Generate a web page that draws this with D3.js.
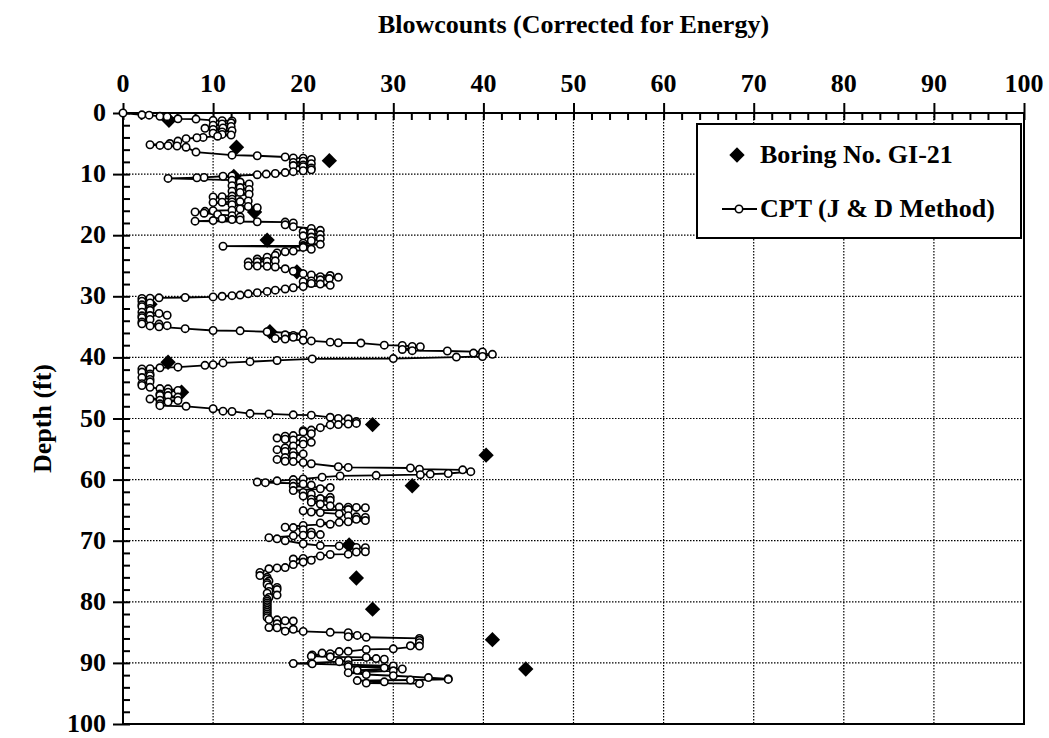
<!DOCTYPE html>
<html>
<head>
<meta charset="utf-8">
<script src="https://cdn.jsdelivr.net/npm/d3@7"></script>
<style>
  body { margin: 0; background: #fff; }
  svg text { font-family: "Liberation Serif", "Times New Roman", serif; font-weight: bold; fill: #000; }
</style>
</head>
<body>
<svg id="chart" width="1049" height="738"></svg>
<script>
// tick values
const xMajor = d3.range(0, 101, 10);
const yMajor = d3.range(0, 101, 10);
const minorStep = 2;

// Boring No. GI-21 (depth ft, corrected blowcount)
const borDepth = [1.2, 5.6, 7.8, 10.4, 16.2, 20.8, 26.0, 31.3, 35.8, 40.8, 45.7, 51.0, 56.0, 61.0, 70.7, 76.1, 81.2, 86.2, 91.0];
const borN     = [5.1, 12.6, 22.9, 12.3, 14.6, 16.0, 19.3, 3.0, 16.3, 5.0, 6.5, 27.7, 40.3, 32.1, 25.1, 25.9, 27.7, 41.0, 44.7];

// CPT (J & D method) as [depth, blowcount], in depth order
const cptPoints = [
  [0,0],[0.3,2.1],[0.35,2.9],[0.55,4.1],[0.6,4.9],[0.95,6.1],[1.0,8.1],[1.2,10.0],[1.25,11.0],[1.3,12.1],
  [1.6,12.0],[1.8,11.0],[2.0,10.0],[2.2,12.0],[2.45,11.1],[2.5,9.1],[2.7,10.0],[2.9,12.1],[3.1,11.0],[3.3,10.0],
  [3.5,11.0],[3.6,12.0],[3.8,10.5],[4.0,8.9],[4.05,8.2],[4.2,7.0],[4.6,6.1],[5.0,5.2],[5.2,3.0],[5.3,4.1],
  [5.35,5.0],[5.4,6.0],[5.6,7.0],[6.4,8.1],[6.9,12.1],[7.0,14.9],[7.2,18.0],[7.35,18.9],[7.4,20.0],[7.6,20.9],
  [7.9,20.0],[8.1,18.9],[8.3,20.9],[8.5,20.0],[8.6,18.9],[8.8,20.0],[9.0,20.9],[9.3,20.9],[9.45,20.0],[9.6,18.9],
  [9.75,18.0],[9.9,16.9],[10.0,15.9],[10.1,14.9],[10.3,12.1],[10.35,11.1],[10.55,9.0],[10.6,8.2],[10.7,5.0],
  [11.0,12.1],[11.3,13.0],[11.6,14.0],[11.9,12.1],[12.2,13.0],[12.5,14.0],[12.8,12.1],[13.0,13.0],[13.3,14.0],
  [13.6,12.1],[13.7,11.0],[13.75,10.0],[14.1,12.1],[14.4,13.9],[14.5,13.0],[14.55,12.1],[14.6,11.0],[14.65,10.0],
  [15.0,12.1],[15.3,13.9],[15.5,14.9],[15.7,13.0],[15.9,12.1],[16.0,10.0],[16.1,9.1],[16.2,8.0],[16.4,9.0],
  [16.6,10.5],[16.8,12.1],[17.0,13.0],[17.3,11.0],[17.45,12.1],[17.5,13.0],[17.6,10.0],[17.7,8.0],[17.8,14.9],
  [17.85,18.0],[18.0,18.9],[18.3,18.0],[18.6,18.9],[18.9,20.9],[19.2,21.9],[19.4,20.0],[19.6,20.9],[19.9,21.9],
  [20.1,20.0],[20.3,20.9],[20.6,21.9],[20.9,20.9],[21.3,20.0],[21.5,21.9],[21.7,20.0],[21.8,11.1],[21.9,20.0],
  [22.0,20.0],[22.3,20.9],[22.6,18.9],[22.7,18.0],[22.9,17.1],[23.3,16.9],[23.6,16.0],[23.9,14.9],[24.2,16.9],
  [24.3,16.0],[24.35,14.9],[24.4,13.9],[25.0,13.9],[25.05,14.9],[25.1,16.0],[25.2,16.9],[25.5,18.0],[25.9,18.9],
  [26.3,20.0],[26.5,20.9],[26.6,23.0],[26.8,21.9],[26.9,23.9],[27.1,22.9],[27.3,21.9],[27.5,20.9],[27.6,20.0],
  [27.9,20.9],[28.0,21.9],[28.2,23.0],[28.4,20.0],[28.6,18.9],[28.8,18.0],[29.0,16.9],[29.2,16.0],[29.4,14.9],
  [29.6,13.9],[29.8,13.0],[29.9,12.1],[30.0,11.0],[30.1,10.0],[30.2,6.9],[30.25,4.0],[30.3,3.0],[30.35,2.1],
  [30.8,2.1],[31.1,3.0],[31.4,2.1],[31.7,2.1],[32.0,3.0],[32.3,3.0],[32.6,2.1],[32.8,4.0],[33.1,4.9],[33.15,3.0],
  [33.2,2.1],[33.5,2.1],[33.8,3.0],[34.2,2.1],[34.5,2.1],[34.55,4.0],[34.8,4.9],[34.85,3.0],[35.0,4.0],[35.3,6.9],
  [35.6,10.0],[35.65,13.0],[35.8,16.0],[36.1,20.0],[36.3,18.0],[36.4,18.9],[36.7,18.9],[36.9,16.9],[37.0,18.0],
  [37.2,20.0],[37.3,20.9],[37.5,23.0],[37.6,23.9],[37.65,26.4],[38.0,29.0],[38.05,31.0],[38.2,32.1],[38.25,33.0],
  [38.7,31.0],[38.9,32.1],[38.95,36.0],[39.1,39.9],[39.3,38.9],[39.5,41.0],[39.85,39.9],[39.95,37.0],[40.2,30.0],
  [40.25,21.0],[40.5,17.1],[40.7,14.1],[40.9,11.1],[41.2,10.0],[41.3,9.1],[41.6,6.1],[41.7,4.1],[41.85,3.0],[41.9,2.1],
  [42.4,2.1],[42.7,3.0],[43.0,3.0],[43.3,2.1],[43.6,3.0],[44.0,3.0],[44.3,2.1],[44.6,2.1],[44.9,3.0],[45.1,4.1],
  [45.15,5.0],[45.4,6.1],[45.7,5.0],[46.0,4.1],[46.2,4.1],[46.25,5.0],[46.5,6.1],[46.8,3.0],[47.0,4.1],[47.05,6.1],
  [47.3,5.0],[47.6,4.1],[47.9,4.1],[48.0,7.0],[48.4,10.0],[48.8,11.1],[48.85,12.1],[49.2,14.1],[49.25,16.2],
  [49.4,18.9],[49.45,20.9],[49.8,23.0],[50.0,23.9],[50.05,25.0],[50.5,25.9],[50.8,25.9],[50.9,25.0],[51.0,23.9],
  [51.05,23.0],[51.5,21.9],[51.9,20.9],[52.0,20.0],
  [52.2,20.0],[52.5,20.9],[52.8,18.9],[52.9,18.0],[53.2,17.1],[53.4,18.0],[53.5,18.9],[53.6,20.0],[53.9,20.9],
  [54.2,20.0],[54.5,18.9],[54.8,18.0],[55.1,17.1],[55.4,18.0],[55.5,18.9],[55.8,20.0],[56.1,18.9],[56.4,18.0],
  [56.7,17.1],[57.0,18.0],[57.05,18.9],[57.2,20.0],[57.4,20.9],[57.9,23.9],[58.0,25.0],[58.1,31.9],[58.3,32.9],
  [58.4,37.7],[58.7,38.6],[59.0,36.1],[59.1,34.1],[59.2,33.0],[59.3,28.1],[59.4,24.1],[59.6,22.1],[59.9,20.0],
  [60.0,18.9],[60.2,17.1],[60.4,14.9],[60.5,15.8],[60.6,18.9],[60.7,20.0],[60.9,20.9],[61.1,18.9],[61.3,23.0],
  [61.5,21.9],[61.8,18.9],[62.1,20.0],[62.4,20.9],[62.7,20.0],[62.9,23.0],[63.1,21.9],[63.2,20.9],[63.4,23.0],
  [63.7,20.9],[64.0,21.9],[64.3,23.0],[64.5,24.0],[64.52,25.0],[64.55,25.9],[64.6,26.9],[64.9,25.0],[65.1,20.0],
  [65.3,20.9],[65.4,21.9],[65.6,24.0],[65.9,25.0],[66.1,25.9],[66.2,26.9],[66.5,25.9],[66.7,26.9],[66.9,25.0],
  [67.0,24.0],[67.1,21.9],[67.3,23.0],[67.5,20.0],[67.8,18.0],[67.85,18.9],[68.2,20.0],[68.6,20.9],
  [69.0,21.9],[69.05,20.9],[69.1,20.0],[69.2,18.9],[69.5,16.2],[69.7,17.1],[70.0,18.0],[70.5,20.0],[70.8,21.9],
  [70.85,24.0],[71.1,25.9],[71.15,26.9],[71.8,26.9],[71.85,25.9],[72.2,25.0],[72.25,23.0],[72.5,21.9],[72.9,20.0],
  [73.0,18.9],[73.2,20.9],[73.5,20.0],[73.9,18.9],[74.4,18.0],[74.45,17.1],[74.6,16.2],[75.2,15.2],[75.7,15.2],
  [76.0,16.0],[76.3,16.0],[76.6,16.2],[76.9,16.0],[77.2,16.0],[77.6,16.2],[77.65,17.1],[78.0,17.1],[78.3,16.2],
  [78.6,16.0],[78.9,17.1],[79.3,16.2],[79.6,16.0],[79.9,16.0],[80.2,16.0],[80.5,16.0],[80.8,16.0],[81.1,16.0],
  [81.4,16.0],[81.7,16.0],[82.0,16.0],[82.3,16.0],[82.6,16.0],
  [82.9,16.2],[82.95,17.1],[83.1,18.0],[83.15,18.9],[83.6,17.1],[84.2,16.2],[84.25,17.1],[84.5,18.9],[84.8,18.0],
  [84.85,20.0],[85.0,23.0],[85.05,25.0],[85.5,26.0],[85.7,25.0],[85.8,27.0],[86.0,32.9],[86.3,32.9],[86.7,32.9],
  [87.2,31.9],[87.25,32.9],[87.7,30.0],[87.8,27.0],[88.1,25.0],[88.15,24.0],[88.4,22.1],[88.5,23.0],[88.7,21.0],
  [88.9,20.9],[89.0,23.0],[89.1,27.0],[89.3,28.1],[89.4,29.0],[89.6,25.0],[89.8,24.0],[90.0,20.9],[90.1,18.9],
  [90.15,21.0],[90.3,25.0],[90.5,30.0],[90.6,25.0],[90.8,29.0],[91.0,31.0],[91.2,26.0],[91.3,30.0],[91.6,25.0],
  [91.9,27.0],[92.1,30.0],[92.4,33.9],[92.6,36.1],[92.7,36.1],[92.8,31.9],[92.9,26.0],[93.1,29.0],[93.3,27.0],[93.4,32.9]
];

const svg = d3.select("#chart");
const x = d3.scaleLinear().domain([0, 100]).range([123, 1024]);
const y = d3.scaleLinear().domain([0, 100]).range([113, 724]);

// grid (dotted)
const grid = svg.append("g").attr("stroke", "#000").attr("stroke-width", 1.2).attr("stroke-dasharray", "1.5,1.5");
xMajor.filter(v => v > 0 && v < 100).forEach(v => {
  grid.append("line").attr("x1", x(v)).attr("x2", x(v)).attr("y1", y(0)).attr("y2", y(100));
});
yMajor.filter(v => v > 0 && v < 100).forEach(v => {
  grid.append("line").attr("x1", x(0)).attr("x2", x(100)).attr("y1", y(v)).attr("y2", y(v));
});

// frame
svg.append("rect")
  .attr("x", x(0)).attr("y", y(0))
  .attr("width", x(100) - x(0)).attr("height", y(100) - y(0))
  .attr("fill", "none").attr("stroke", "#000").attr("stroke-width", 2);

function noDomain(g) { g.select(".domain").remove(); g.selectAll(".tick line").attr("stroke-width", 2); }

// top axis: major ticks outside, minor inside
svg.append("g").attr("transform", `translate(0,${y(0)})`)
  .call(d3.axisTop(x).tickValues(xMajor).tickSize(10).tickFormat(""))
  .call(noDomain);
svg.append("g").attr("transform", `translate(0,${y(0)})`)
  .call(d3.axisBottom(x).tickValues(d3.range(0, 101, minorStep)).tickSize(7).tickFormat(""))
  .call(noDomain);

// left axis
svg.append("g").attr("transform", `translate(${x(0)},0)`)
  .call(d3.axisLeft(y).tickValues(yMajor).tickSize(10).tickFormat(""))
  .call(noDomain);
svg.append("g").attr("transform", `translate(${x(0)},0)`)
  .call(d3.axisRight(y).tickValues(d3.range(0, 101, minorStep)).tickSize(7).tickFormat(""))
  .call(noDomain);

// tick labels
svg.append("g").selectAll("text").data(xMajor).join("text")
  .attr("x", d => x(d)).attr("y", 92)
  .attr("text-anchor", "middle").attr("font-size", 26)
  .text(d => d);
svg.append("g").selectAll("text").data(yMajor).join("text")
  .attr("x", 106).attr("y", d => y(d) + 8)
  .attr("text-anchor", "end").attr("font-size", 26)
  .text(d => d);

// titles
svg.append("text").attr("x", (x(0) + x(100)) / 2).attr("y", 33)
  .attr("text-anchor", "middle").attr("font-size", 26)
  .text("Blowcounts (Corrected for Energy)");
svg.append("text").attr("transform", `translate(51,${(y(0) + y(100)) / 2}) rotate(-90)`)
  .attr("text-anchor", "middle").attr("font-size", 26)
  .text("Depth (ft)");

// boring diamonds
const diamond = d3.symbol().type(d3.symbolDiamond2).size(150);
svg.append("g").selectAll("path").data(borDepth).join("path")
  .attr("d", diamond)
  .attr("transform", (d, i) => `translate(${x(borN[i])},${y(d)})`)
  .attr("fill", "#000");

// CPT line and markers
const line = d3.line().x(d => x(d[1])).y(d => y(d[0]));
svg.append("path").datum(cptPoints)
  .attr("d", line).attr("fill", "none").attr("stroke", "#000").attr("stroke-width", 1.8);
svg.append("g").selectAll("circle").data(cptPoints).join("circle")
  .attr("cx", d => x(d[1])).attr("cy", d => y(d[0])).attr("r", 3.7)
  .attr("fill", "#fff").attr("stroke", "#000").attr("stroke-width", 1.6);

// legend
const lg = svg.append("g");
lg.append("rect").attr("x", 697).attr("y", 124).attr("width", 324).attr("height", 114)
  .attr("fill", "#fff").attr("stroke", "#000").attr("stroke-width", 2);
lg.append("path").attr("d", diamond).attr("transform", "translate(737,155)").attr("fill", "#000");
lg.append("text").attr("x", 760).attr("y", 163).attr("font-size", 26).text("Boring No. GI-21");
lg.append("line").attr("x1", 722).attr("x2", 757).attr("y1", 209).attr("y2", 209)
  .attr("stroke", "#000").attr("stroke-width", 1.8);
lg.append("circle").attr("cx", 739).attr("cy", 209).attr("r", 3.7)
  .attr("fill", "#fff").attr("stroke", "#000").attr("stroke-width", 1.6);
lg.append("text").attr("x", 760).attr("y", 217).attr("font-size", 26).text("CPT (J & D Method)");
</script>
</body>
</html>
